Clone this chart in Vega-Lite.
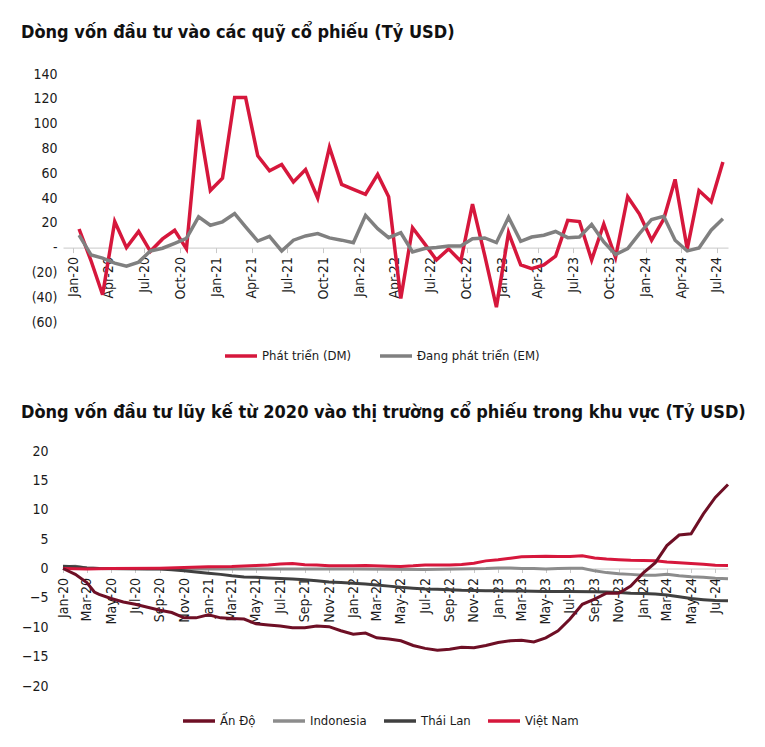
{
  "$schema": "https://vega.github.io/schema/vega-lite/v6.json",
  "padding": {"left": 21, "top": 24, "right": 5, "bottom": 5},
  "background": "white",
  "config": {
    "font": "DejaVu Sans Condensed, Roboto, sans-serif",
    "view": {"stroke": null},
    "axis": {"labelFont": "DejaVu Sans Condensed, Roboto, sans-serif", "labelColor": "#1a1a1a", "labelFontSize": 14},
    "legend": {"labelFont": "DejaVu Sans Condensed, Roboto, sans-serif", "labelColor": "#1a1a1a", "labelFontSize": 13},
    "title": {"font": "DejaVu Sans Condensed, Roboto, sans-serif", "fontWeight": "bold", "fontSize": 18, "color": "#111111", "anchor": "start", "frame": "group"}
  },
  "spacing": 41,
  "align": "none",
  "datasets": {
    "flows": [
      {"date":"2020-01-01","series":"Phát triển (DM)","value":15},
      {"date":"2020-02-01","series":"Phát triển (DM)","value":-11},
      {"date":"2020-03-01","series":"Phát triển (DM)","value":-38},
      {"date":"2020-04-01","series":"Phát triển (DM)","value":21},
      {"date":"2020-05-01","series":"Phát triển (DM)","value":0},
      {"date":"2020-06-01","series":"Phát triển (DM)","value":13},
      {"date":"2020-07-01","series":"Phát triển (DM)","value":-3},
      {"date":"2020-08-01","series":"Phát triển (DM)","value":7},
      {"date":"2020-09-01","series":"Phát triển (DM)","value":14},
      {"date":"2020-10-01","series":"Phát triển (DM)","value":-1},
      {"date":"2020-11-01","series":"Phát triển (DM)","value":103},
      {"date":"2020-12-01","series":"Phát triển (DM)","value":46},
      {"date":"2021-01-01","series":"Phát triển (DM)","value":56},
      {"date":"2021-02-01","series":"Phát triển (DM)","value":121},
      {"date":"2021-03-01","series":"Phát triển (DM)","value":121},
      {"date":"2021-04-01","series":"Phát triển (DM)","value":74},
      {"date":"2021-05-01","series":"Phát triển (DM)","value":62},
      {"date":"2021-06-01","series":"Phát triển (DM)","value":67},
      {"date":"2021-07-01","series":"Phát triển (DM)","value":53},
      {"date":"2021-08-01","series":"Phát triển (DM)","value":63},
      {"date":"2021-09-01","series":"Phát triển (DM)","value":40},
      {"date":"2021-10-01","series":"Phát triển (DM)","value":81},
      {"date":"2021-11-01","series":"Phát triển (DM)","value":51},
      {"date":"2021-12-01","series":"Phát triển (DM)","value":47},
      {"date":"2022-01-01","series":"Phát triển (DM)","value":43},
      {"date":"2022-02-01","series":"Phát triển (DM)","value":59},
      {"date":"2022-03-01","series":"Phát triển (DM)","value":41},
      {"date":"2022-04-01","series":"Phát triển (DM)","value":-41},
      {"date":"2022-05-01","series":"Phát triển (DM)","value":16},
      {"date":"2022-06-01","series":"Phát triển (DM)","value":3},
      {"date":"2022-07-01","series":"Phát triển (DM)","value":-10},
      {"date":"2022-08-01","series":"Phát triển (DM)","value":-1},
      {"date":"2022-09-01","series":"Phát triển (DM)","value":-11},
      {"date":"2022-10-01","series":"Phát triển (DM)","value":35},
      {"date":"2022-11-01","series":"Phát triển (DM)","value":-6},
      {"date":"2022-12-01","series":"Phát triển (DM)","value":-48},
      {"date":"2023-01-01","series":"Phát triển (DM)","value":12},
      {"date":"2023-02-01","series":"Phát triển (DM)","value":-14},
      {"date":"2023-03-01","series":"Phát triển (DM)","value":-17},
      {"date":"2023-04-01","series":"Phát triển (DM)","value":-14},
      {"date":"2023-05-01","series":"Phát triển (DM)","value":-7},
      {"date":"2023-06-01","series":"Phát triển (DM)","value":22},
      {"date":"2023-07-01","series":"Phát triển (DM)","value":21},
      {"date":"2023-08-01","series":"Phát triển (DM)","value":-10},
      {"date":"2023-09-01","series":"Phát triển (DM)","value":19},
      {"date":"2023-10-01","series":"Phát triển (DM)","value":-8},
      {"date":"2023-11-01","series":"Phát triển (DM)","value":41},
      {"date":"2023-12-01","series":"Phát triển (DM)","value":27},
      {"date":"2024-01-01","series":"Phát triển (DM)","value":6},
      {"date":"2024-02-01","series":"Phát triển (DM)","value":23},
      {"date":"2024-03-01","series":"Phát triển (DM)","value":55},
      {"date":"2024-04-01","series":"Phát triển (DM)","value":-1},
      {"date":"2024-05-01","series":"Phát triển (DM)","value":46},
      {"date":"2024-06-01","series":"Phát triển (DM)","value":37},
      {"date":"2024-07-01","series":"Phát triển (DM)","value":69},
      {"date":"2020-01-01","series":"Đang phát triển (EM)","value":10},
      {"date":"2020-02-01","series":"Đang phát triển (EM)","value":-6},
      {"date":"2020-03-01","series":"Đang phát triển (EM)","value":-8.5},
      {"date":"2020-04-01","series":"Đang phát triển (EM)","value":-12.5},
      {"date":"2020-05-01","series":"Đang phát triển (EM)","value":-15},
      {"date":"2020-06-01","series":"Đang phát triển (EM)","value":-11.7},
      {"date":"2020-07-01","series":"Đang phát triển (EM)","value":-2.7},
      {"date":"2020-08-01","series":"Đang phát triển (EM)","value":-0.5},
      {"date":"2020-09-01","series":"Đang phát triển (EM)","value":3.5},
      {"date":"2020-10-01","series":"Đang phát triển (EM)","value":7.5},
      {"date":"2020-11-01","series":"Đang phát triển (EM)","value":24.8},
      {"date":"2020-12-01","series":"Đang phát triển (EM)","value":18},
      {"date":"2021-01-01","series":"Đang phát triển (EM)","value":20.8},
      {"date":"2021-02-01","series":"Đang phát triển (EM)","value":27.4},
      {"date":"2021-03-01","series":"Đang phát triển (EM)","value":16.8},
      {"date":"2021-04-01","series":"Đang phát triển (EM)","value":5.3},
      {"date":"2021-05-01","series":"Đang phát triển (EM)","value":9},
      {"date":"2021-06-01","series":"Đang phát triển (EM)","value":-2.7},
      {"date":"2021-07-01","series":"Đang phát triển (EM)","value":6},
      {"date":"2021-08-01","series":"Đang phát triển (EM)","value":9.4},
      {"date":"2021-09-01","series":"Đang phát triển (EM)","value":11.3},
      {"date":"2021-10-01","series":"Đang phát triển (EM)","value":7.8},
      {"date":"2021-11-01","series":"Đang phát triển (EM)","value":6},
      {"date":"2021-12-01","series":"Đang phát triển (EM)","value":4},
      {"date":"2022-01-01","series":"Đang phát triển (EM)","value":26},
      {"date":"2022-02-01","series":"Đang phát triển (EM)","value":15.3},
      {"date":"2022-03-01","series":"Đang phát triển (EM)","value":8},
      {"date":"2022-04-01","series":"Đang phát triển (EM)","value":12},
      {"date":"2022-05-01","series":"Đang phát triển (EM)","value":-3.5},
      {"date":"2022-06-01","series":"Đang phát triển (EM)","value":-0.8},
      {"date":"2022-07-01","series":"Đang phát triển (EM)","value":0},
      {"date":"2022-08-01","series":"Đang phát triển (EM)","value":1.3},
      {"date":"2022-09-01","series":"Đang phát triển (EM)","value":1.3},
      {"date":"2022-10-01","series":"Đang phát triển (EM)","value":7.2},
      {"date":"2022-11-01","series":"Đang phát triển (EM)","value":7.8},
      {"date":"2022-12-01","series":"Đang phát triển (EM)","value":4},
      {"date":"2023-01-01","series":"Đang phát triển (EM)","value":24.5},
      {"date":"2023-02-01","series":"Đang phát triển (EM)","value":5},
      {"date":"2023-03-01","series":"Đang phát triển (EM)","value":8.5},
      {"date":"2023-04-01","series":"Đang phát triển (EM)","value":10},
      {"date":"2023-05-01","series":"Đang phát triển (EM)","value":13},
      {"date":"2023-06-01","series":"Đang phát triển (EM)","value":8},
      {"date":"2023-07-01","series":"Đang phát triển (EM)","value":8.5},
      {"date":"2023-08-01","series":"Đang phát triển (EM)","value":18.7},
      {"date":"2023-09-01","series":"Đang phát triển (EM)","value":4.5},
      {"date":"2023-10-01","series":"Đang phát triển (EM)","value":-5.6},
      {"date":"2023-11-01","series":"Đang phát triển (EM)","value":-0.8},
      {"date":"2023-12-01","series":"Đang phát triển (EM)","value":11.2},
      {"date":"2024-01-01","series":"Đang phát triển (EM)","value":22.7},
      {"date":"2024-02-01","series":"Đang phát triển (EM)","value":25.3},
      {"date":"2024-03-01","series":"Đang phát triển (EM)","value":5.9},
      {"date":"2024-04-01","series":"Đang phát triển (EM)","value":-2.7},
      {"date":"2024-05-01","series":"Đang phát triển (EM)","value":-0.3},
      {"date":"2024-06-01","series":"Đang phát triển (EM)","value":14},
      {"date":"2024-07-01","series":"Đang phát triển (EM)","value":23.3}
    ],
    "cum": [
      {"date":"2020-01-01","country":"Indonesia","value":0.3},
      {"date":"2020-02-01","country":"Indonesia","value":0.4},
      {"date":"2020-03-01","country":"Indonesia","value":0.1},
      {"date":"2020-04-01","country":"Indonesia","value":0},
      {"date":"2020-07-01","country":"Indonesia","value":0},
      {"date":"2020-10-01","country":"Indonesia","value":-0.05},
      {"date":"2021-01-01","country":"Indonesia","value":-0.1},
      {"date":"2021-06-01","country":"Indonesia","value":-0.1},
      {"date":"2022-01-01","country":"Indonesia","value":-0.1},
      {"date":"2022-07-01","country":"Indonesia","value":-0.15},
      {"date":"2022-12-01","country":"Indonesia","value":0},
      {"date":"2023-01-01","country":"Indonesia","value":0.1},
      {"date":"2023-02-01","country":"Indonesia","value":0.1},
      {"date":"2023-03-01","country":"Indonesia","value":0},
      {"date":"2023-04-01","country":"Indonesia","value":0},
      {"date":"2023-05-01","country":"Indonesia","value":-0.1},
      {"date":"2023-06-01","country":"Indonesia","value":0},
      {"date":"2023-07-01","country":"Indonesia","value":0.05},
      {"date":"2023-08-01","country":"Indonesia","value":0.05},
      {"date":"2023-09-01","country":"Indonesia","value":-0.4},
      {"date":"2023-10-01","country":"Indonesia","value":-0.7},
      {"date":"2023-11-01","country":"Indonesia","value":-0.9},
      {"date":"2023-12-01","country":"Indonesia","value":-1.0},
      {"date":"2024-01-01","country":"Indonesia","value":-1.15},
      {"date":"2024-02-01","country":"Indonesia","value":-1.15},
      {"date":"2024-03-01","country":"Indonesia","value":-1.0},
      {"date":"2024-04-01","country":"Indonesia","value":-1.25},
      {"date":"2024-05-01","country":"Indonesia","value":-1.4},
      {"date":"2024-06-01","country":"Indonesia","value":-1.5},
      {"date":"2024-07-01","country":"Indonesia","value":-1.65},
      {"date":"2024-08-02","country":"Indonesia","value":-1.75},
      {"date":"2020-01-01","country":"Thái Lan","value":0.4},
      {"date":"2020-02-01","country":"Thái Lan","value":0.3},
      {"date":"2020-03-01","country":"Thái Lan","value":0.1},
      {"date":"2020-04-01","country":"Thái Lan","value":0},
      {"date":"2020-06-01","country":"Thái Lan","value":-0.05},
      {"date":"2020-08-01","country":"Thái Lan","value":-0.1},
      {"date":"2020-09-01","country":"Thái Lan","value":-0.1},
      {"date":"2020-10-01","country":"Thái Lan","value":-0.2},
      {"date":"2020-11-01","country":"Thái Lan","value":-0.4},
      {"date":"2020-12-01","country":"Thái Lan","value":-0.6},
      {"date":"2021-01-01","country":"Thái Lan","value":-0.8},
      {"date":"2021-02-01","country":"Thái Lan","value":-1.0},
      {"date":"2021-03-01","country":"Thái Lan","value":-1.25},
      {"date":"2021-04-01","country":"Thái Lan","value":-1.45},
      {"date":"2021-05-01","country":"Thái Lan","value":-1.5},
      {"date":"2021-06-01","country":"Thái Lan","value":-1.6},
      {"date":"2021-07-01","country":"Thái Lan","value":-1.7},
      {"date":"2021-08-01","country":"Thái Lan","value":-1.8},
      {"date":"2021-09-01","country":"Thái Lan","value":-1.9},
      {"date":"2021-10-01","country":"Thái Lan","value":-2.1},
      {"date":"2021-11-01","country":"Thái Lan","value":-2.3},
      {"date":"2021-12-01","country":"Thái Lan","value":-2.4},
      {"date":"2022-01-01","country":"Thái Lan","value":-2.5},
      {"date":"2022-02-01","country":"Thái Lan","value":-2.65},
      {"date":"2022-03-01","country":"Thái Lan","value":-2.8},
      {"date":"2022-04-01","country":"Thái Lan","value":-3.0},
      {"date":"2022-05-01","country":"Thái Lan","value":-3.2},
      {"date":"2022-06-01","country":"Thái Lan","value":-3.35},
      {"date":"2022-07-01","country":"Thái Lan","value":-3.5},
      {"date":"2022-08-01","country":"Thái Lan","value":-3.55},
      {"date":"2022-09-01","country":"Thái Lan","value":-3.6},
      {"date":"2022-10-01","country":"Thái Lan","value":-3.7},
      {"date":"2022-11-01","country":"Thái Lan","value":-3.75},
      {"date":"2022-12-01","country":"Thái Lan","value":-3.8},
      {"date":"2023-01-01","country":"Thái Lan","value":-3.8},
      {"date":"2023-03-01","country":"Thái Lan","value":-3.85},
      {"date":"2023-05-01","country":"Thái Lan","value":-3.9},
      {"date":"2023-07-01","country":"Thái Lan","value":-3.9},
      {"date":"2023-09-01","country":"Thái Lan","value":-3.95},
      {"date":"2023-10-01","country":"Thái Lan","value":-4.0},
      {"date":"2023-11-01","country":"Thái Lan","value":-4.1},
      {"date":"2023-12-01","country":"Thái Lan","value":-4.2},
      {"date":"2024-01-01","country":"Thái Lan","value":-4.25},
      {"date":"2024-02-01","country":"Thái Lan","value":-4.35},
      {"date":"2024-03-01","country":"Thái Lan","value":-4.5},
      {"date":"2024-04-01","country":"Thái Lan","value":-4.8},
      {"date":"2024-05-01","country":"Thái Lan","value":-5.1},
      {"date":"2024-06-01","country":"Thái Lan","value":-5.3},
      {"date":"2024-07-01","country":"Thái Lan","value":-5.45},
      {"date":"2024-08-02","country":"Thái Lan","value":-5.5},
      {"date":"2020-01-01","country":"Việt Nam","value":0},
      {"date":"2020-03-01","country":"Việt Nam","value":-0.1},
      {"date":"2020-05-01","country":"Việt Nam","value":0},
      {"date":"2020-09-01","country":"Việt Nam","value":0.05},
      {"date":"2020-11-01","country":"Việt Nam","value":0.15},
      {"date":"2021-01-01","country":"Việt Nam","value":0.3},
      {"date":"2021-03-01","country":"Việt Nam","value":0.35},
      {"date":"2021-05-01","country":"Việt Nam","value":0.5},
      {"date":"2021-06-01","country":"Việt Nam","value":0.6},
      {"date":"2021-07-01","country":"Việt Nam","value":0.75},
      {"date":"2021-08-01","country":"Việt Nam","value":0.85},
      {"date":"2021-09-01","country":"Việt Nam","value":0.65},
      {"date":"2021-10-01","country":"Việt Nam","value":0.6},
      {"date":"2021-11-01","country":"Việt Nam","value":0.45},
      {"date":"2022-01-01","country":"Việt Nam","value":0.45},
      {"date":"2022-02-01","country":"Việt Nam","value":0.5},
      {"date":"2022-04-01","country":"Việt Nam","value":0.4},
      {"date":"2022-05-01","country":"Việt Nam","value":0.35},
      {"date":"2022-06-01","country":"Việt Nam","value":0.45},
      {"date":"2022-07-01","country":"Việt Nam","value":0.6},
      {"date":"2022-09-01","country":"Việt Nam","value":0.6},
      {"date":"2022-10-01","country":"Việt Nam","value":0.7},
      {"date":"2022-11-01","country":"Việt Nam","value":0.9},
      {"date":"2022-12-01","country":"Việt Nam","value":1.3},
      {"date":"2023-01-01","country":"Việt Nam","value":1.5},
      {"date":"2023-02-01","country":"Việt Nam","value":1.75},
      {"date":"2023-03-01","country":"Việt Nam","value":2.0},
      {"date":"2023-04-01","country":"Việt Nam","value":2.05},
      {"date":"2023-05-01","country":"Việt Nam","value":2.1},
      {"date":"2023-06-01","country":"Việt Nam","value":2.05},
      {"date":"2023-07-01","country":"Việt Nam","value":2.05},
      {"date":"2023-08-01","country":"Việt Nam","value":2.15},
      {"date":"2023-09-01","country":"Việt Nam","value":1.8},
      {"date":"2023-10-01","country":"Việt Nam","value":1.6},
      {"date":"2023-11-01","country":"Việt Nam","value":1.5},
      {"date":"2023-12-01","country":"Việt Nam","value":1.4},
      {"date":"2024-01-01","country":"Việt Nam","value":1.36},
      {"date":"2024-02-01","country":"Việt Nam","value":1.3},
      {"date":"2024-03-01","country":"Việt Nam","value":1.1},
      {"date":"2024-04-01","country":"Việt Nam","value":0.97},
      {"date":"2024-05-01","country":"Việt Nam","value":0.85},
      {"date":"2024-06-01","country":"Việt Nam","value":0.74},
      {"date":"2024-07-01","country":"Việt Nam","value":0.57},
      {"date":"2024-08-02","country":"Việt Nam","value":0.5},
      {"date":"2020-01-01","country":"Ấn Độ","value":0},
      {"date":"2020-02-01","country":"Ấn Độ","value":-1.0},
      {"date":"2020-03-01","country":"Ấn Độ","value":-2.4},
      {"date":"2020-03-20","country":"Ấn Độ","value":-4.0},
      {"date":"2020-04-01","country":"Ấn Độ","value":-4.4},
      {"date":"2020-05-01","country":"Ấn Độ","value":-5.1},
      {"date":"2020-06-01","country":"Ấn Độ","value":-5.7},
      {"date":"2020-07-01","country":"Ấn Độ","value":-6.1},
      {"date":"2020-08-01","country":"Ấn Độ","value":-6.6},
      {"date":"2020-09-01","country":"Ấn Độ","value":-7.1},
      {"date":"2020-10-01","country":"Ấn Độ","value":-7.5},
      {"date":"2020-11-01","country":"Ấn Độ","value":-8.4},
      {"date":"2020-12-01","country":"Ấn Độ","value":-8.4},
      {"date":"2021-01-01","country":"Ấn Độ","value":-7.9},
      {"date":"2021-02-01","country":"Ấn Độ","value":-8.4},
      {"date":"2021-03-01","country":"Ấn Độ","value":-8.5},
      {"date":"2021-04-01","country":"Ấn Độ","value":-8.6},
      {"date":"2021-05-01","country":"Ấn Độ","value":-9.4},
      {"date":"2021-06-01","country":"Ấn Độ","value":-9.6},
      {"date":"2021-07-01","country":"Ấn Độ","value":-9.8},
      {"date":"2021-08-01","country":"Ấn Độ","value":-10.1},
      {"date":"2021-09-01","country":"Ấn Độ","value":-10.1},
      {"date":"2021-10-01","country":"Ấn Độ","value":-9.8},
      {"date":"2021-11-01","country":"Ấn Độ","value":-9.9},
      {"date":"2021-12-01","country":"Ấn Độ","value":-10.6},
      {"date":"2022-01-01","country":"Ấn Độ","value":-11.2},
      {"date":"2022-02-01","country":"Ấn Độ","value":-11.0},
      {"date":"2022-03-01","country":"Ấn Độ","value":-11.8},
      {"date":"2022-04-01","country":"Ấn Độ","value":-12.0},
      {"date":"2022-05-01","country":"Ấn Độ","value":-12.3},
      {"date":"2022-06-01","country":"Ấn Độ","value":-13.1},
      {"date":"2022-07-01","country":"Ấn Độ","value":-13.6},
      {"date":"2022-08-01","country":"Ấn Độ","value":-13.9},
      {"date":"2022-09-01","country":"Ấn Độ","value":-13.75},
      {"date":"2022-10-01","country":"Ấn Độ","value":-13.4},
      {"date":"2022-11-01","country":"Ấn Độ","value":-13.5},
      {"date":"2022-12-01","country":"Ấn Độ","value":-13.1},
      {"date":"2023-01-01","country":"Ấn Độ","value":-12.6},
      {"date":"2023-02-01","country":"Ấn Độ","value":-12.3},
      {"date":"2023-03-01","country":"Ấn Độ","value":-12.2},
      {"date":"2023-04-01","country":"Ấn Độ","value":-12.5},
      {"date":"2023-05-01","country":"Ấn Độ","value":-11.8},
      {"date":"2023-06-01","country":"Ấn Độ","value":-10.6},
      {"date":"2023-07-01","country":"Ấn Độ","value":-8.6},
      {"date":"2023-08-01","country":"Ấn Độ","value":-6.1},
      {"date":"2023-09-01","country":"Ấn Độ","value":-5.2},
      {"date":"2023-10-01","country":"Ấn Độ","value":-4.2},
      {"date":"2023-11-01","country":"Ấn Độ","value":-4.2},
      {"date":"2023-12-01","country":"Ấn Độ","value":-3.0},
      {"date":"2024-01-01","country":"Ấn Độ","value":-0.8},
      {"date":"2024-02-01","country":"Ấn Độ","value":1.0},
      {"date":"2024-03-01","country":"Ấn Độ","value":3.9},
      {"date":"2024-04-01","country":"Ấn Độ","value":5.7},
      {"date":"2024-05-01","country":"Ấn Độ","value":5.9},
      {"date":"2024-06-01","country":"Ấn Độ","value":9.3},
      {"date":"2024-07-01","country":"Ấn Độ","value":12.1},
      {"date":"2024-08-02","country":"Ấn Độ","value":14.3}
    ]
  },
  "vconcat": [
    {
      "width": 665,
      "height": 248,
      "title": {"text": "Dòng vốn đầu tư vào các quỹ cổ phiếu (Tỷ USD)", "offset": 25, "dx": -42},
      "data": {"name": "flows"},
      "mark": {"type": "line", "strokeWidth": 3.5},
      "encoding": {
        "x": {
          "field": "date", "type": "temporal",
          "scale": {"type": "utc", "domain": [{"year": 2019, "month": 11, "date": 21, "utc": true}, {"year": 2024, "month": 7, "date": 14, "utc": true}]},
          "axis": {"title": null, "format": "%b-%y", "tickCount": {"interval": "month", "step": 3}, "labelAngle": -90, "offset": -74.4, "domainColor": "#C8C8C8", "tickColor": "#C8C8C8", "tickSize": 5, "tickOffset": -6, "labelPadding": 4, "grid": false, "labelOverlap": false, "labelFlush": false}
        },
        "y": {
          "field": "value", "type": "quantitative",
          "scale": {"domain": [-60, 140], "nice": false},
          "axis": {"title": null, "values": [-60, -40, -20, 0, 20, 40, 60, 80, 100, 120, 140], "domain": false, "ticks": false, "grid": false, "labelPadding": 6, "labelExpr": "datum.value == 0 ? '-' : (datum.value < 0 ? '(' + abs(datum.value) + ')' : datum.label)"}
        },
        "color": {
          "field": "series", "type": "nominal",
          "scale": {"domain": ["Phát triển (DM)", "Đang phát triển (EM)"], "range": ["#D6173C", "#808080"]},
          "legend": {"title": null, "orient": "none", "legendX": 160, "legendY": 264, "direction": "horizontal", "symbolType": "stroke", "symbolStrokeWidth": 3.5, "symbolSize": 1024, "labelOffset": 3, "columnPadding": 21, "labelLimit": 300}
        }
      }
    },
    {
      "width": 665,
      "height": 235,
      "title": {"text": "Dòng vốn đầu tư lũy kế từ 2020 vào thị trường cổ phiếu trong khu vực (Tỷ USD)", "offset": 22, "dx": -42},
      "data": {"name": "cum"},
      "mark": {"type": "line", "strokeWidth": 3},
      "encoding": {
        "x": {
          "field": "date", "type": "temporal",
          "scale": {"type": "utc", "domain": [{"year": 2020, "month": 1, "date": 1, "utc": true}, {"year": 2024, "month": 8, "date": 2, "utc": true}]},
          "axis": {"title": null, "format": "%b-%y", "tickCount": {"interval": "month", "step": 2}, "labelAngle": -90, "offset": -117.5, "domainColor": "#C8C8C8", "tickColor": "#C8C8C8", "tickSize": 4, "labelPadding": 5, "grid": false, "labelOverlap": false, "labelFlush": false}
        },
        "y": {
          "field": "value", "type": "quantitative",
          "scale": {"domain": [-20, 20], "nice": false},
          "axis": {"title": null, "values": [-20, -15, -10, -5, 0, 5, 10, 15, 20], "domain": false, "ticks": false, "grid": false, "labelPadding": 15}
        },
        "color": {
          "field": "country", "type": "nominal",
          "scale": {"domain": ["Ấn Độ", "Indonesia", "Thái Lan", "Việt Nam"], "range": ["#6E0F25", "#8C8C8C", "#404040", "#D6173C"]},
          "legend": {"title": null, "orient": "none", "legendX": 118, "legendY": 252, "direction": "horizontal", "symbolType": "stroke", "symbolStrokeWidth": 3.5, "symbolSize": 1024, "labelOffset": 3, "columnPadding": 10, "labelLimit": 300}
        }
      }
    }
  ],
  "resolve": {"scale": {"color": "independent"}}
}
